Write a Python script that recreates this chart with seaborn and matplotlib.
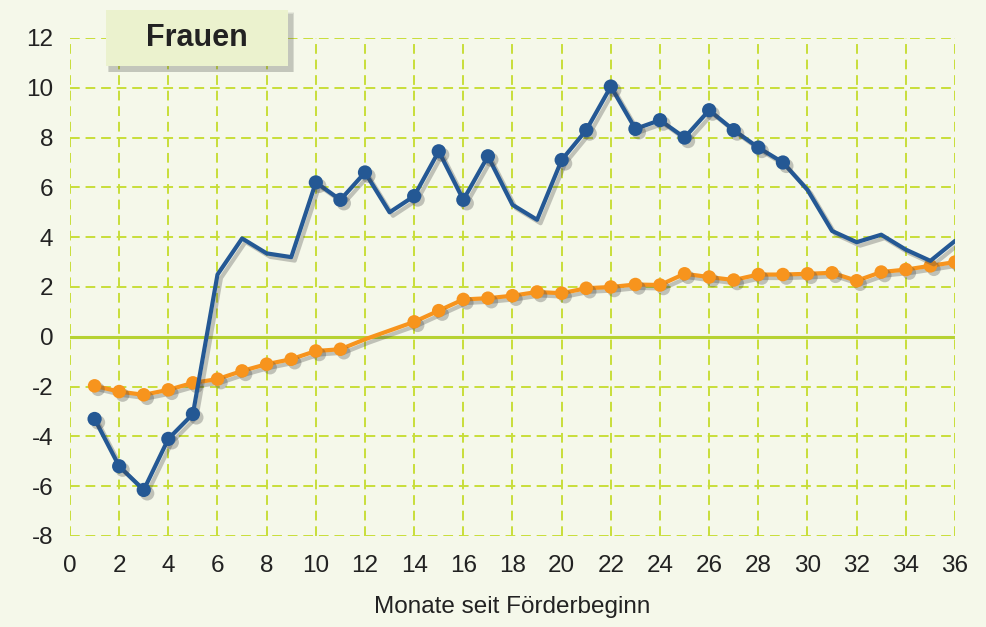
import matplotlib
matplotlib.use("Agg")
import matplotlib.pyplot as plt
import matplotlib.patheffects as pe
from matplotlib.patches import Rectangle
import pandas as pd
import seaborn as sns

months = list(range(1, 37))

blue_vals = [-3.3, -5.2, -6.15, -4.1, -3.1, 2.5, 3.95, 3.35, 3.2, 6.2,
             5.5, 6.6, 5.0, 5.65, 7.45, 5.5, 7.25, 5.3, 4.7, 7.1,
             8.3, 10.05, 8.35, 8.7, 8.0, 9.1, 8.3, 7.6, 7.0, 5.9,
             4.25, 3.8, 4.1, 3.5, 3.05, 3.85]
blue_marked = [True] * 5 + [False] * 4 + [True] * 3 + [False] + [True] * 4 \
    + [False] * 2 + [True] * 10 + [False] * 7

orange_vals = [-1.97, -2.2, -2.33, -2.13, -1.85, -1.7, -1.37, -1.1, -0.9, -0.57,
               -0.5, -0.1, 0.25, 0.6, 1.05, 1.5, 1.55, 1.65, 1.8, 1.75,
               1.95, 2.0, 2.1, 2.08, 2.53, 2.4, 2.28, 2.5, 2.5, 2.53,
               2.57, 2.25, 2.6, 2.7, 2.85, 3.0]
orange_marked = [True] * 11 + [False] * 2 + [True] * 23

x_ticks = list(range(0, 37, 2))
y_ticks = list(range(-8, 13, 2))
title = "Frauen"
x_label = "Monate seit Förderbeginn"

BG = "#F5F8EA"
BLUE = "#245894"
ORANGE = "#F7941D"
GRID = "#C8DE3A"
ZERO = "#B6D232"

df = pd.DataFrame({"monat": months, "blau": blue_vals, "orange": orange_vals,
                   "blau_m": blue_marked, "orange_m": orange_marked})

sns.set_style("white")
plt.rcParams["font.family"] = ["Liberation Sans", "DejaVu Sans"]

fig = plt.figure(figsize=(9.87, 6.27), dpi=100, facecolor=BG)
ax = fig.add_axes([70 / 987, 1 - 536 / 627, 885 / 987, 498 / 627])
ax.set_facecolor(BG)

line_fx = [pe.SimpleLineShadow(offset=(2.5, -2.5), shadow_color="#444444", alpha=0.3),
           pe.Normal()]
dot_fx = [pe.SimplePatchShadow(offset=(2.5, -2.5), shadow_rgbFace="#444444", alpha=0.3),
          pe.Normal()]

ax.axhline(0, color=ZERO, lw=2.2, zorder=1)

sns.lineplot(data=df, x="monat", y="orange", color=ORANGE, lw=3, ax=ax,
             path_effects=line_fx, zorder=3)
sns.scatterplot(data=df[df["orange_m"]], x="monat", y="orange", color=ORANGE,
                s=95, linewidth=0, ax=ax, zorder=4, path_effects=dot_fx)
sns.lineplot(data=df, x="monat", y="blau", color=BLUE, lw=3, ax=ax,
             path_effects=line_fx, zorder=5)
sns.scatterplot(data=df[df["blau_m"]], x="monat", y="blau", color=BLUE,
                s=105, linewidth=0, ax=ax, zorder=6, path_effects=dot_fx)

ax.set_xlim(0, 36)
ax.set_ylim(-8, 12)
ax.set_xticks(x_ticks)
ax.set_yticks(y_ticks)
ax.set_yticklabels([str(v) if v >= 0 else "-" + str(-v) for v in y_ticks])
ax.grid(True, color=GRID, ls=(0, (5, 3)), lw=1.4)
ax.set_axisbelow(True)
for s in ax.spines.values():
    s.set_visible(False)
ax.tick_params(length=0, labelsize=17.5, colors="#222222")
ax.tick_params(axis="y", pad=12)
ax.tick_params(axis="x", pad=14)
ax.set_xlabel(x_label, fontsize=17.5, color="#222222", labelpad=13)
ax.set_ylabel("")

# title box with soft shadow
bx, by, bw, bh = 106 / 987, 1 - 66 / 627, 182 / 987, 56 / 627
for i, a in enumerate([0.08, 0.11, 0.15]):
    d = (4 - i) / 987
    fig.add_artist(Rectangle((bx + 4 / 987 - d / 2, by - 5 / 627 - d / 2),
                             bw + d, bh + d * 987 / 627, transform=fig.transFigure,
                             facecolor="#555555", alpha=a, edgecolor="none", zorder=1))
fig.add_artist(Rectangle((bx, by), bw, bh, transform=fig.transFigure,
                         facecolor="#EBF2CE", edgecolor="none", zorder=2))
fig.text(bx + bw / 2, by + bh / 2, title, ha="center", va="center",
         fontsize=22, fontweight="bold", color="#222222", zorder=3)

fig.savefig("out.png", dpi=100, facecolor=BG)
